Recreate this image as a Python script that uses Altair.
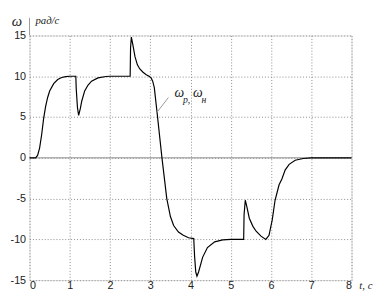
import altair as alt
import pandas as pd

t_vals = [0, 0.15, 0.2, 0.25, 0.3, 0.35, 0.4, 0.45, 0.5, 0.6, 0.7, 0.8, 0.9, 1.0,
          1.15, 1.16, 1.19, 1.22, 1.26, 1.3, 1.37, 1.45, 1.54, 1.7, 1.9, 2.0,
          2.5, 2.51, 2.53, 2.57, 2.62, 2.68, 2.74, 2.82, 2.9, 2.97, 3.02, 3.06, 3.1,
          3.17, 3.29, 3.41, 3.5, 3.58, 3.7, 3.82, 3.95, 4.08, 4.1, 4.13, 4.16, 4.2,
          4.3, 4.42, 4.6, 4.8, 5.0, 5.32, 5.33, 5.36, 5.4, 5.46, 5.55, 5.63, 5.75,
          5.87, 5.95, 6.03, 6.1, 6.2, 6.27, 6.35, 6.45, 6.6, 6.8, 7.0, 8.0]
w_vals = [0, 0, 0.3, 1.2, 2.8, 4.8, 6.3, 7.4, 8.2, 9.1, 9.6, 9.85, 9.95, 10,
          10, 8.5, 6.2, 5.2, 6.0, 7.0, 8.2, 8.9, 9.4, 9.8, 9.97, 10,
          10, 13.5, 14.8, 13.8, 12.4, 11.4, 10.9, 10.5, 10.2, 10.0, 9.8, 9.4, 8.6,
          5.5, 0, -5, -7.2, -8.3, -9.1, -9.5, -9.8, -9.9, -12, -14.0, -14.5, -14.0,
          -12.2, -11, -10.3, -10.05, -10, -10, -7, -5.2, -6.0, -7.4, -8.4, -9.0, -9.6,
          -10, -9.5, -7.6, -5.2, -3.3, -2.6, -1.5, -0.8, -0.3, -0.08, 0, 0]

x_ticks = [0, 1, 2, 3, 4, 5, 6, 7, 8]
y_ticks = [-15, -10, -5, 0, 5, 10, 15]

df = pd.DataFrame({"t": t_vals, "w": w_vals})

xs = alt.Scale(domain=[0, 8], nice=False)
ys = alt.Scale(domain=[-15, 15], nice=False)

axis_common = dict(
    grid=True, gridColor="#8a8a8a", gridDash=[1, 2], gridWidth=1,
    ticks=False, domain=False, labelFont="Liberation Sans", labelFontSize=11,
    labelColor="#222", title=None,
)

line = alt.Chart(df).mark_line(color="black", strokeWidth=1.2).encode(
    x=alt.X("t:Q", scale=xs, axis=alt.Axis(values=x_ticks, labelPadding=0, **axis_common)),
    y=alt.Y("w:Q", scale=ys, axis=alt.Axis(
        values=y_ticks, labelPadding=4,
        labelExpr="replace(datum.label, '−', '-')", **axis_common)),
)

zero = alt.Chart(pd.DataFrame({"z": [0]})).mark_rule(color="#8a8a8a", strokeWidth=1).encode(
    y=alt.Y("z:Q", scale=ys)
)

leader = alt.Chart(pd.DataFrame({"t": [3.17], "w": [5.6], "t2": [3.45], "w2": [7.4]})).mark_rule(
    color="#999", strokeWidth=1
).encode(x=alt.X("t:Q", scale=xs), y=alt.Y("w:Q", scale=ys), x2="t2:Q", y2="w2:Q")

serif = "Liberation Serif"
ann_main = alt.Chart(pd.DataFrame({"t": [3.6, 4.06], "w": [7.9, 7.9], "s": ["ω", "ω"]})).mark_text(
    font=serif, fontStyle="italic", fontSize=14, align="left", baseline="middle", color="#222"
).encode(x=alt.X("t:Q", scale=xs), y=alt.Y("w:Q", scale=ys), text="s:N")
ann_sub = alt.Chart(pd.DataFrame({"t": [3.81, 4.27], "w": [7.1, 7.1], "s": ["р,", "н"]})).mark_text(
    font=serif, fontStyle="italic", fontSize=10, align="left", baseline="middle", color="#222"
).encode(x=alt.X("t:Q", scale=xs), y=alt.Y("w:Q", scale=ys), text="s:N")

omega_lbl = alt.Chart(pd.DataFrame({"s": ["ω"]})).mark_text(
    font=serif, fontStyle="italic", fontSize=15, align="center", baseline="middle", color="#222"
).encode(x=alt.value(-13), y=alt.value(-15), text="s:N")
unit_lbl = alt.Chart(pd.DataFrame({"s": ["рад/с"]})).mark_text(
    font=serif, fontStyle="italic", fontSize=11, align="left", baseline="middle", color="#222"
).encode(x=alt.value(6), y=alt.value(-15), text="s:N")
sep = alt.Chart(pd.DataFrame({"a": [0]})).mark_rule(color="#999", strokeWidth=1).encode(
    x=alt.value(0), y=alt.value(-18), y2=alt.value(0)
)
t_lbl = alt.Chart(pd.DataFrame({"s": ["t, c"]})).mark_text(
    font=serif, fontStyle="italic", fontSize=11, align="left", baseline="top", color="#222"
).encode(x=alt.value(337), y=alt.value(250), text="s:N")

chart = alt.layer(zero, line, leader, ann_main, ann_sub, omega_lbl, unit_lbl, sep, t_lbl).properties(
    width=329, height=250,
    autosize=alt.AutoSizeParams(type="none"),
    padding={"left": 22, "top": 25, "right": 25, "bottom": 10},
).configure_view(stroke="#8a8a8a", strokeWidth=1).configure(background="white")

chart.save("out.html", embed_options={"renderer": "svg", "actions": False})
